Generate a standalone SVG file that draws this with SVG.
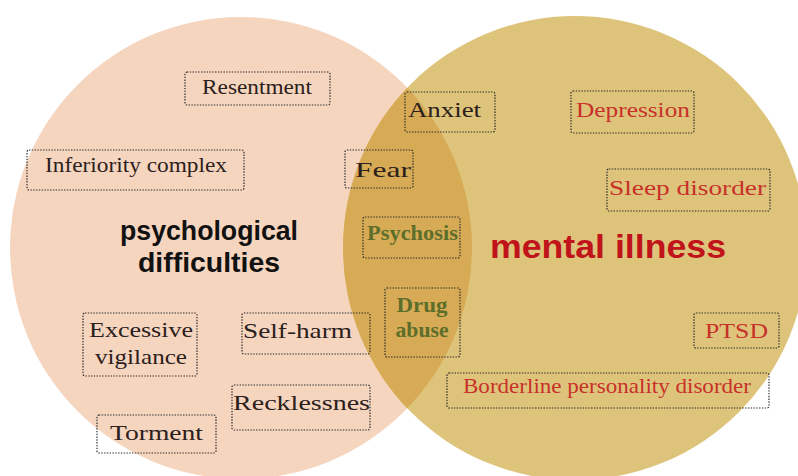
<svg xmlns="http://www.w3.org/2000/svg" width="798" height="476" viewBox="0 0 798 476">
<defs>
<style>
.box{fill:none;stroke:#2a2a2a;stroke-width:1.2;stroke-dasharray:1.4 1.4}
.t{font-family:"Liberation Serif","DejaVu Serif",serif;font-size:22px;fill:#2b201c}
.r{fill:#c8302a}
.g{fill:#5d6e2a;font-weight:bold}
.big{font-family:"Liberation Sans","DejaVu Sans",sans-serif;font-weight:bold}
</style>
<clipPath id="leftClip"><circle cx="241" cy="248" r="231"/></clipPath>
</defs>
<rect width="798" height="476" fill="#ffffff"/>
<g id="circles">
<circle id="circle-psych" cx="241" cy="248" r="231" fill="#f6d5bf"/>
<circle id="circle-mental" cx="575" cy="248" r="232" fill="#dec47b"/>
<circle id="overlap" cx="575" cy="248" r="232" fill="#d7ab55" clip-path="url(#leftClip)"/>
</g>
<g id="connectors"/>
<g id="title-psych">
<text class="big" x="209" y="240" font-size="27" text-anchor="middle" fill="#111" textLength="178" lengthAdjust="spacingAndGlyphs">psychological</text>
<text class="big" x="209" y="272" font-size="27" text-anchor="middle" fill="#111" textLength="142" lengthAdjust="spacingAndGlyphs">difficulties</text>
</g>
<g id="title-mental">
<text class="big" x="608" y="258" font-size="34" text-anchor="middle" fill="#c0141a" textLength="236" lengthAdjust="spacingAndGlyphs">mental illness</text>
</g>
<g id="n-resentment"><rect class="box" x="185" y="72" width="145" height="33" rx="2"/><text class="t" x="202" y="94" textLength="110" lengthAdjust="spacingAndGlyphs">Resentment</text></g>
<g id="n-inferiority"><rect class="box" x="27" y="150" width="217" height="40" rx="2"/><text class="t" x="45" y="172" textLength="182" lengthAdjust="spacingAndGlyphs">Inferiority complex</text></g>
<g id="n-fear"><rect class="box" x="345" y="150" width="68" height="38" rx="2"/><text class="t" x="355" y="177" textLength="56" lengthAdjust="spacingAndGlyphs">Fear</text></g>
<g id="n-anxiet"><rect class="box" x="405" y="92" width="90" height="40" rx="2"/><text class="t" x="408" y="117" textLength="73" lengthAdjust="spacingAndGlyphs">Anxiet</text></g>
<g id="n-depression"><rect class="box" x="571" y="91" width="123" height="42" rx="2"/><text class="t r" x="576" y="117" textLength="114" lengthAdjust="spacingAndGlyphs">Depression</text></g>
<g id="n-sleep"><rect class="box" x="607" y="169" width="163" height="42" rx="2"/><text class="t r" x="609" y="195" textLength="157" lengthAdjust="spacingAndGlyphs">Sleep disorder</text></g>
<g id="n-psychosis"><rect class="box" x="363" y="217" width="97" height="41" rx="2"/><text class="t g" x="367" y="240" font-size="19" textLength="91" lengthAdjust="spacingAndGlyphs">Psychosis</text></g>
<g id="n-drug"><rect class="box" x="385" y="288" width="75" height="69" rx="2"/><text class="t g" x="422" y="312" font-size="20" text-anchor="middle" textLength="51" lengthAdjust="spacingAndGlyphs">Drug</text><text class="t g" x="422" y="337" font-size="20" text-anchor="middle" textLength="53" lengthAdjust="spacingAndGlyphs">abuse</text></g>
<g id="n-excessive"><rect class="box" x="83" y="313" width="114" height="63" rx="2"/><text class="t" x="141" y="337" text-anchor="middle" textLength="104" lengthAdjust="spacingAndGlyphs">Excessive</text><text class="t" x="141" y="364" text-anchor="middle" textLength="92" lengthAdjust="spacingAndGlyphs">vigilance</text></g>
<g id="n-selfharm"><rect class="box" x="242" y="313" width="128" height="41" rx="2"/><text class="t" x="243" y="338" textLength="109" lengthAdjust="spacingAndGlyphs">Self-harm</text></g>
<g id="n-reckless"><rect class="box" x="232" y="385" width="138" height="45" rx="2"/><text class="t" x="233" y="410" textLength="137" lengthAdjust="spacingAndGlyphs">Recklessnes</text></g>
<g id="n-torment"><rect class="box" x="97" y="415" width="119" height="38" rx="2"/><text class="t" x="110" y="440" textLength="93" lengthAdjust="spacingAndGlyphs">Torment</text></g>
<g id="n-ptsd"><rect class="box" x="694" y="313" width="85" height="35" rx="2"/><text class="t r" x="705" y="338" textLength="63" lengthAdjust="spacingAndGlyphs">PTSD</text></g>
<g id="n-borderline"><rect class="box" x="447" y="373" width="322" height="35" rx="2"/><text class="t r" x="463" y="393" font-size="19" textLength="288" lengthAdjust="spacingAndGlyphs">Borderline personality disorder</text></g>
</svg>
